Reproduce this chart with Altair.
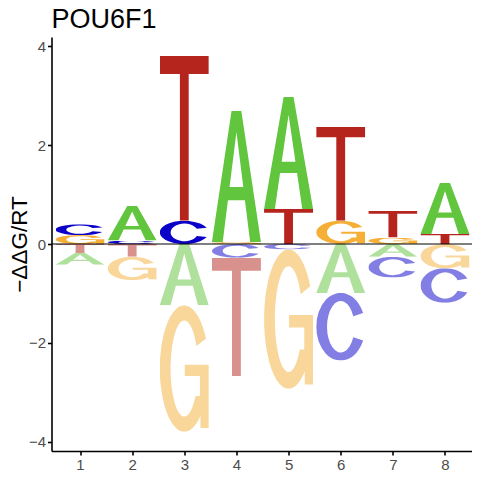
import base64
import altair as alt
import pandas as pd

# ---- data ----
positions = [1, 2, 3, 4, 5, 6, 7, 8]
A_vals = [-0.24, 0.70, -1.24, 2.65, 2.27, -0.99, -0.26, 1.04]
C_vals = [0.22, 0.07, 0.47, -0.28, -0.11, -1.37, -0.42, -0.70]
G_vals = [0.18, -0.47, -2.56, 0.04, -2.82, 0.47, 0.13, -0.49]
T_vals = [-0.18, -0.26, 3.34, -2.39, 0.71, 1.90, 0.54, 0.20]
x_ticks = [1, 2, 3, 4, 5, 6, 7, 8]
y_ticks = [-4, -2, 0, 2, 4]
title_text = "POU6F1"
y_title = "−ΔΔG/RT"

# ---- glyph styling (letter outlines in a 100x100 box, stretched to fit) ----
colors = {"A": "#61C53D", "C": "#0A00C8", "G": "#F5AF37", "T": "#B5251D"}
paths = {
    "T": "M0,0H100V11H59V100H41V11H0Z",
    "A": "M0,100L40,0H60L100,100H78L67.33,68H32.67L22,100Z M36,58H64L50,16Z",
    "C": "M95.7,29.7A50,50 0 1 0 95.7,70.3L75.6,65.5A28,38 0 1 1 75.6,34.5Z",
    "G": "M94.1,26.5A50,50 0 1 0 83,87.6V97H100V47H51V56H82V71.8H72.9A28,38 0 1 1 74.7,32.2Z",
}


def glyph_url(letter):
    svg = (
        '<svg xmlns="http://www.w3.org/2000/svg" width="100" height="100" '
        'viewBox="0 0 100 100" preserveAspectRatio="none">'
        f'<path d="{paths[letter]}" fill="{colors[letter]}" fill-rule="evenodd"/></svg>'
    )
    return "data:image/svg+xml;base64," + base64.b64encode(svg.encode()).decode()


rows = []
for letter, vals in (("A", A_vals), ("C", C_vals), ("G", G_vals), ("T", T_vals)):
    for p, v in zip(positions, vals):
        rows.append({"pos": p, "letter": letter, "v": v, "url": glyph_url(letter)})
df = pd.DataFrame(rows)

half = 0.47

letters = (
    alt.Chart(df)
    .transform_calculate(absv="abs(datum.v)", xl=f"datum.pos - {half}", xr=f"datum.pos + {half}")
    .transform_stack(
        stack="v",
        groupby=["pos"],
        as_=["y0", "y1"],
        offset="zero",
        sort=[alt.SortField("absv", order="ascending")],
    )
    .mark_image(aspect=False)
    .encode(
        x=alt.X(
            "xl:Q",
            scale=alt.Scale(domain=[0.453, 8.518], nice=False, zero=False),
            axis=alt.Axis(values=x_ticks, title=None, grid=False, format="d",
                          labelPadding=2.5),
        ),
        x2="xr:Q",
        y=alt.Y(
            "y0:Q",
            scale=alt.Scale(domain=[-4.19, 4.19], nice=False, zero=False),
            axis=alt.Axis(
                values=y_ticks,
                grid=False,
                title=y_title,
                titleFontSize=22.5,
                titleFont="Liberation Sans",
                titleFontWeight="normal",
                titleColor="black",
                titleAngle=270,
                titleAlign="center",
                titleBaseline="alphabetic",
                titleX=-25.5,
                titleY=207,
                labelPadding=2,
            ),
        ),
        y2="y1:Q",
        url=alt.Url("url:N"),
        opacity=alt.condition("datum.v < 0", alt.value(0.5), alt.value(1.0)),
    )
)

zero_line = (
    alt.Chart(pd.DataFrame({"z": [0]}))
    .mark_rule(color="black", strokeWidth=1)
    .encode(y=alt.Y("z:Q"))
)

title_mark = (
    alt.Chart(pd.DataFrame({"t": [title_text]}))
    .mark_text(
        align="left",
        baseline="alphabetic",
        fontSize=27,
        font="Liberation Sans",
        color="black",
    )
    .encode(x=alt.value(0), y=alt.value(-9.3), text="t:N")
)

chart = (
    alt.layer(letters, zero_line, title_mark)
    .properties(
        width=420.5,
        height=414,
        autosize=alt.AutoSizeParams(type="none"),
        padding={"left": 43.5, "top": 29, "right": 0, "bottom": 21},
    )
    .configure_axis(
        domainColor="black",
        domainWidth=1.6,
        tickColor="black",
        tickWidth=1.6,
        tickSize=4,
        labelColor="#4D4D4D",
        labelFontSize=15,
        labelFont="Liberation Sans",
    )
    .configure_view(stroke=None)
)

chart.save("out.html", embed_options={"renderer": "svg", "actions": False})
